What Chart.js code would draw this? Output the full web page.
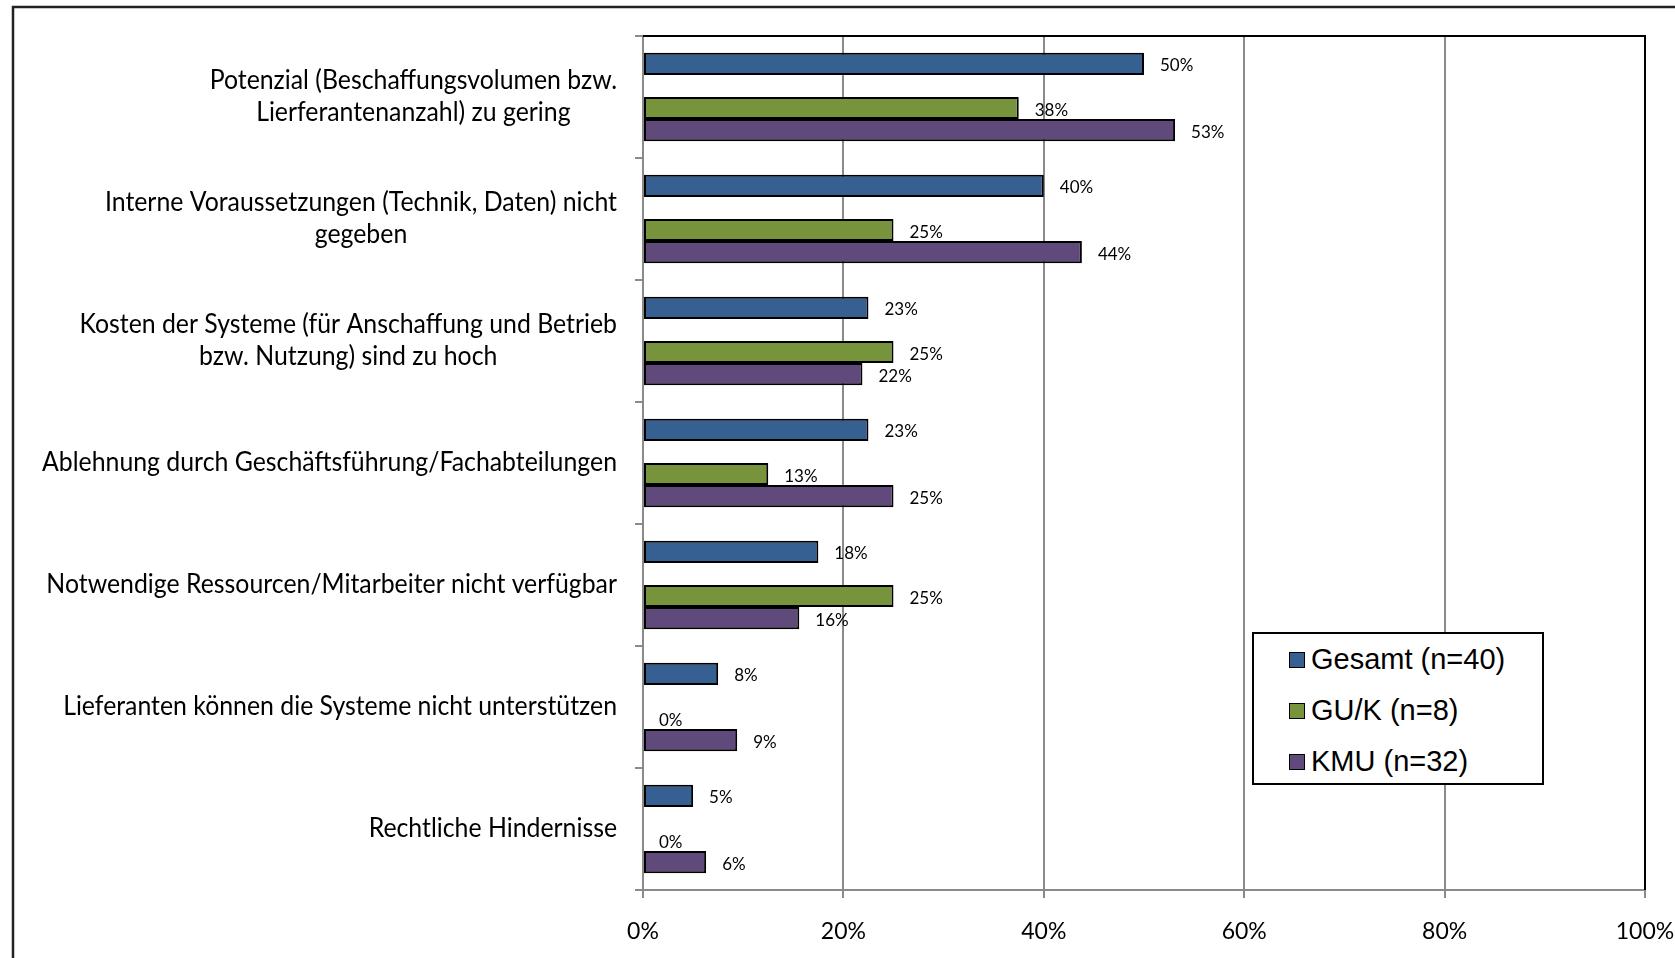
<!DOCTYPE html>
<html>
<head>
<meta charset="utf-8">
<script src="https://cdn.jsdelivr.net/npm/chart.js@4"></script>
<style>
  body { margin: 0; background: #fff; overflow: hidden; }
  #wrap { position: relative; width: 1675px; height: 958px; }
  #chart { display: block; }
  #legend {
    position: absolute; left: 1252px; top: 632px; width: 288px; height: 149px;
    border: 2px solid #000; background: #fff;
    font-family: "Liberation Sans", Arial, sans-serif; font-size: 29px; color: #000;
  }
  #legend .item { position: absolute; left: 35px; height: 34px; line-height: 34px; white-space: nowrap; }
  #legend .sw { display: inline-block; width: 14px; height: 14px; border: 1.5px solid #000; margin-right: 6px; vertical-align: 1px; }
</style>
</head>
<body>
<div id="wrap">
  <canvas id="chart" width="1675" height="958"></canvas>
  <div id="legend"></div>
</div>
<script>
// Kategorien (von oben nach unten)
const categories = [
    ['Potenzial (Beschaffungsvolumen bzw.', 'Lierferantenanzahl) zu gering'],
    ['Interne Voraussetzungen (Technik, Daten) nicht', 'gegeben'],
    ['Kosten der Systeme (für Anschaffung und Betrieb', 'bzw. Nutzung) sind zu hoch'],
    ['Ablehnung durch Geschäftsführung/Fachabteilungen'],
    ['Notwendige Ressourcen/Mitarbeiter nicht verfügbar'],
    ['Lieferanten können die Systeme nicht unterstützen'],
    ['Rechtliche Hindernisse']
];

// Anteile in %
const gesamt = [50, 40, 22.5, 22.5, 17.5, 7.5, 5];
const guk = [37.5, 25, 25, 12.5, 25, 0, 0];
const kmu = [53.1, 43.8, 21.9, 25, 15.6, 9.4, 6.3];

const seriesNames = ['Gesamt (n=40)', 'GU/K (n=8)', 'KMU (n=32)'];
const seriesColors = ['#376092', '#77933C', '#604A7B'];
const xTicks = [0, 20, 40, 60, 80, 100];

const LABEL_FONT = '26px Lato';
const LABEL_SQUEEZE = 0.955;   // Lato ist etwas breiter als Calibri
const VALUE_FONT = '17px Lato';

// Legende
const legend = document.getElementById('legend');
seriesNames.forEach(function (name, i) {
    const item = document.createElement('div');
    item.className = 'item';
    item.style.top = (8 + i * 51) + 'px';
    item.innerHTML = '<span class="sw" style="background:' + seriesColors[i] + '"></span>' + name;
    legend.appendChild(item);
});

// Rahmen, Kategorietexte und Wertbeschriftungen
const decorations = {
    id: 'decorations',
    beforeDraw(chart) {
        const c = chart.ctx;
        c.save();
        c.strokeStyle = '#222';
        c.lineWidth = 2.5;
        c.beginPath();
        c.moveTo(13, 958);
        c.lineTo(13, 7);
        c.lineTo(1675, 7);
        c.stroke();
        c.restore();
    },
    afterDraw(chart) {
        const c = chart.ctx;
        const area = chart.chartArea;
        const y = chart.scales.y;

        c.save();
        // oberer und rechter Rand
        c.strokeStyle = '#000';
        c.lineWidth = 2;
        c.beginPath();
        c.moveTo(area.left, area.top);
        c.lineTo(area.right, area.top);
        c.lineTo(area.right, area.bottom);
        c.stroke();

        // Kategorien
        c.font = LABEL_FONT;
        c.fillStyle = '#000';
        c.textAlign = 'center';
        c.textBaseline = 'middle';
        const lineH = 32;
        categories.forEach(function (lines, i) {
            const cy = y.getPixelForValue(i);
            const w = Math.max.apply(null, lines.map(l => c.measureText(l).width)) * LABEL_SQUEEZE;
            const cx = 617 - w / 2;
            const y0 = cy - (lines.length - 1) * lineH / 2;
            lines.forEach(function (l, j) {
                c.save();
                c.translate(cx, y0 + j * lineH);
                c.scale(LABEL_SQUEEZE, 1);
                c.fillText(l, 0, 0);
                c.restore();
            });
        });

        // Werte
        c.font = VALUE_FONT;
        c.textAlign = 'left';
        chart.data.datasets.forEach(function (ds, di) {
            if (!ds.showValues) return;
            chart.getDatasetMeta(di).data.forEach(function (bar, i) {
                c.fillText(Math.round(ds.data[i]) + '%', bar.x + 16, bar.y + 2);
            });
        });
        c.restore();
    }
};

new Chart(document.getElementById('chart'), {
    type: 'bar',
    data: {
        labels: categories.map(l => l.join(' ')),
        datasets: [
            { label: seriesNames[0], data: gesamt, backgroundColor: seriesColors[0], showValues: true },
            { label: '', data: gesamt.map(() => null), backgroundColor: 'transparent', borderWidth: 0 },
            { label: seriesNames[1], data: guk, backgroundColor: seriesColors[1], showValues: true },
            { label: seriesNames[2], data: kmu, backgroundColor: seriesColors[2], showValues: true }
        ]
    },
    options: {
        indexAxis: 'y',
        responsive: false,
        animation: false,
        layout: { padding: { left: 0, top: 36, right: 30, bottom: 0 } },
        datasets: {
            bar: {
                borderColor: '#000',
                borderWidth: 2,
                borderSkipped: false,
                categoryPercentage: 0.725,
                barPercentage: 1.0
            }
        },
        plugins: {
            legend: { display: false },
            tooltip: { enabled: false }
        },
        scales: {
            x: {
                min: 0,
                max: 100,
                afterBuildTicks: s => { s.ticks = xTicks.map(v => ({ value: v })); },
                afterFit: s => { s.height = 68; s.paddingLeft = 0; s.paddingRight = 0; },
                grid: { color: '#8a8a8a', lineWidth: 2, tickLength: 8 },
                border: { color: '#8a8a8a', width: 2 },
                ticks: {
                    font: { family: 'Lato', size: 23 },
                    color: '#000',
                    padding: 20,
                    callback: v => v + '%'
                }
            },
            y: {
                afterFit: s => { s.width = 643; },
                grid: { drawOnChartArea: false, color: '#8a8a8a', lineWidth: 2, tickLength: 8, offset: true },
                border: { color: '#8a8a8a', width: 2 },
                ticks: { display: false }
            }
        }
    },
    plugins: [decorations]
});
</script>
</body>
</html>
